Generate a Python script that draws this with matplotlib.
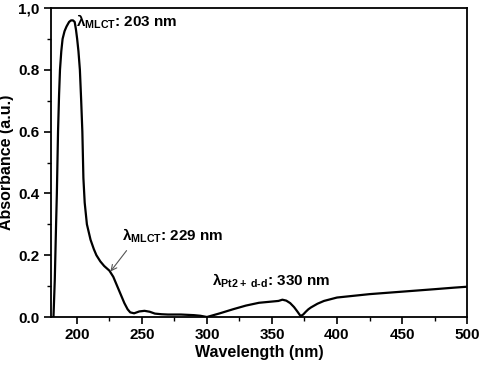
import numpy as np
import matplotlib.pyplot as plt
from matplotlib.ticker import MultipleLocator, FuncFormatter

plt.rcParams['font.family'] = 'Liberation Sans'
plt.rcParams['font.weight'] = 'bold'
plt.rcParams['mathtext.fontset'] = 'custom'
plt.rcParams['mathtext.rm'] = 'Liberation Sans'
plt.rcParams['mathtext.bf'] = 'Liberation Sans:bold'
plt.rcParams['mathtext.it'] = 'Liberation Sans:italic'

# spectrum
wavelength = [182, 183, 184, 184.6, 185.5, 186.3, 187, 188, 189, 190.5, 192, 194, 195.5,
              197, 198.3, 199.3, 200.2, 201.2, 202.3, 203.3, 204.2, 205, 206, 207.7,
              210.5, 213, 215, 218, 221, 225, 228, 231, 234, 236.5, 239, 241, 244,
              248, 252, 256, 260, 265, 270, 280, 290, 295, 300, 305, 310, 320, 330,
              340, 350, 355, 358, 361, 364, 367, 369.5, 372, 374, 376, 378, 380, 385,
              390, 400, 425, 450, 475, 490, 500]
absorbance = [0.0, 0.12, 0.3, 0.4, 0.6, 0.72, 0.8, 0.86, 0.9, 0.925, 0.94, 0.955, 0.96,
              0.96, 0.955, 0.93, 0.9, 0.86, 0.8, 0.7, 0.6, 0.45, 0.37, 0.3,
              0.25, 0.22, 0.2, 0.18, 0.165, 0.15, 0.13, 0.1, 0.07, 0.045, 0.025, 0.015, 0.012,
              0.018, 0.02, 0.017, 0.011, 0.009, 0.008, 0.008, 0.006, 0.004, 0.0, 0.006, 0.012, 0.025, 0.037,
              0.046, 0.05, 0.052, 0.056, 0.053, 0.045, 0.032, 0.018, 0.003, 0.008, 0.017, 0.025, 0.031, 0.043,
              0.052, 0.063, 0.074, 0.082, 0.09, 0.095, 0.098]

fig = plt.figure(figsize=(4.8, 3.65), dpi=100)
ax = fig.add_axes([0.106, 0.1315, 0.867, 0.8465])

ax.plot(wavelength, absorbance, color='black', lw=1.6)

ax.set_xlim(180, 500)
ax.set_ylim(0, 1.0)
ax.xaxis.set_major_locator(MultipleLocator(50))
ax.xaxis.set_minor_locator(MultipleLocator(25))
ax.yaxis.set_major_locator(MultipleLocator(0.2))
ax.yaxis.set_minor_locator(MultipleLocator(0.1))
ax.yaxis.set_major_formatter(FuncFormatter(lambda v, p: '1,0' if abs(v - 1) < 1e-6 else f'{v:.1f}'))
ax.tick_params(which='major', direction='out', length=5, width=1.2, labelsize=11, pad=3)
ax.tick_params(which='minor', direction='out', length=3, width=1.0)
for s in ax.spines.values():
    s.set_linewidth(1.3)

ax.set_xlabel('Wavelength (nm)', fontsize=11.5, fontweight='bold', labelpad=2)
ax.set_ylabel('Absorbance (a.u.)', fontsize=11.5, fontweight='bold', labelpad=3)

ax.text(199.5, 0.955, r'$\mathrm{\lambda}_{\mathbf{MLCT}}$: 203 nm', fontsize=11, va='center', ha='left')
ax.text(234.5, 0.262, r'$\mathrm{\lambda}_{\mathbf{MLCT}}$: 229 nm', fontsize=11, va='center', ha='left')
ax.annotate('', xy=(224.5, 0.14), xytext=(239.5, 0.222),
            arrowprops=dict(arrowstyle='->', color='#555555', lw=0.8))
ax.text(304, 0.117, r'$\mathrm{\lambda}_{\mathbf{Pt2+\ d\text{-}d}}$: 330 nm', fontsize=11, va='center', ha='left')

fig.savefig('out.png', dpi=100)
